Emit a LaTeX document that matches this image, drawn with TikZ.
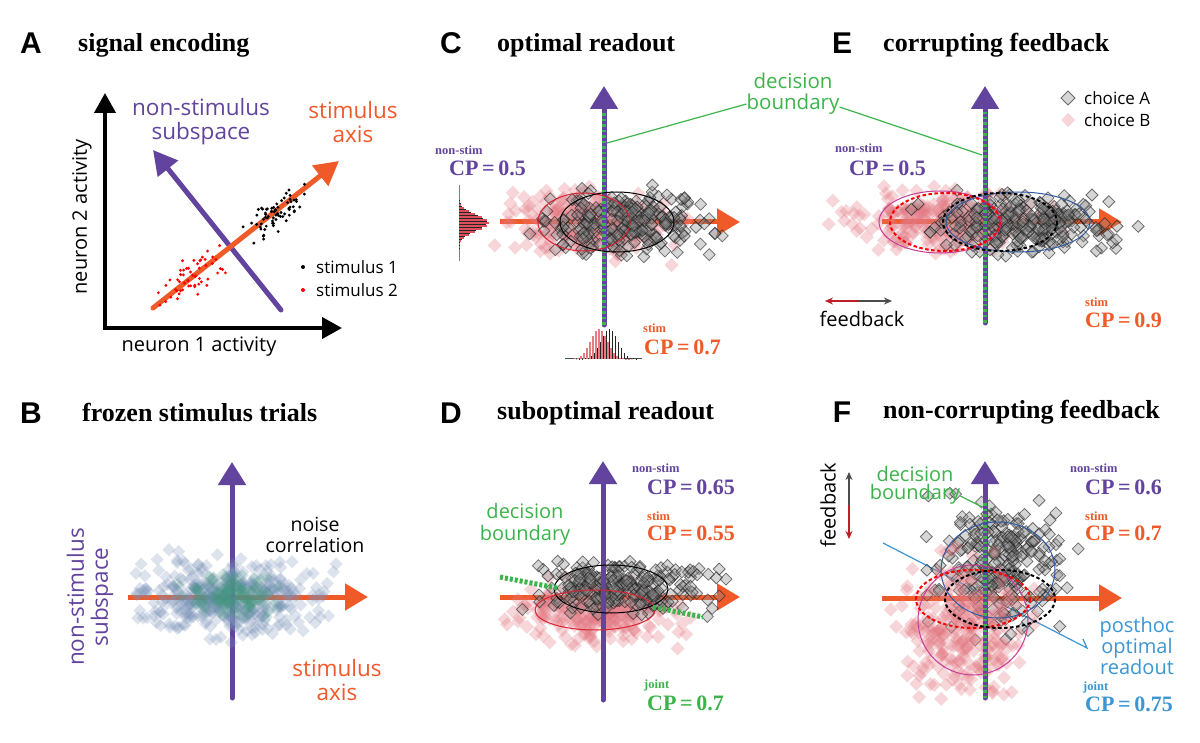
\documentclass[tikz,border=0pt]{standalone}
\usepackage{fontspec}
\setmainfont{Liberation Serif}
\setsansfont{Open Sans}
\newfontfamily\letterfont{Liberation Sans}
\usetikzlibrary{arrows.meta}
\definecolor{purp}{RGB}{98,68,158}
\definecolor{orng}{RGB}{240,90,40}
\definecolor{grn}{RGB}{60,180,75}
\definecolor{bluel}{RGB}{60,150,210}
\definecolor{ellred}{RGB}{215,35,50}
\definecolor{magen}{RGB}{200,60,150}
\definecolor{ellblue}{RGB}{50,90,160}
\definecolor{pinkd}{RGB}{228,120,130}
\definecolor{grayd}{RGB}{140,140,140}
\definecolor{bluedia}{RGB}{120,145,185}
\definecolor{tealdia}{RGB}{70,150,130}
\definecolor{fbred}{RGB}{190,30,40}
\newcommand\cloud[7]{%
\foreach \ii in {1,...,#2}{%
\pgfmathsetmacro\rdx{#3+#5*(rand+rand+rand)}%
\pgfmathsetmacro\rdy{#4+#6*(rand+rand+rand)}%
\path[#1] (\rdx,\rdy) +(-#7,0) -- +(0,-#7) -- +(#7,0) -- +(0,#7) -- cycle;}}
\newcommand\dotline[6]{%
\foreach \ii in {1,...,#2}{%
\pgfmathsetmacro\ra{#5*(rand+rand+rand)}%
\pgfmathsetmacro\rb{#6*(rand+rand+rand)}%
\fill[#1] (#3+0.783*\ra+0.621*\rb, #4-0.621*\ra+0.783*\rb) circle (1.6);}}
\begin{document}
\begin{tikzpicture}[x=1pt,y=-1pt,
  letter/.style={font=\letterfont\bfseries\fontsize{30}{30}\selectfont, inner sep=0},
  ttl/.style={font=\bfseries\fontsize{26}{26}\selectfont, anchor=west, inner sep=0},
  lab/.style={font=\sffamily\fontsize{20}{22}\selectfont, inner sep=0, align=center},
  biglab/.style={font=\sffamily\fontsize{22.5}{24}\selectfont, inner sep=0, align=center},
  leg/.style={font=\sffamily\fontsize{17}{17}\selectfont, inner sep=0, anchor=west},
  smalll/.style={font=\bfseries\fontsize{12.5}{12.5}\selectfont, inner sep=0, anchor=west},
  cp/.style={font=\bfseries\fontsize{22}{22}\selectfont, inner sep=0, anchor=west},
  paxis/.style={purp, line width=5pt, -{Triangle[length=23pt,width=27pt]}},
  oaxis/.style={orng, line width=5pt, -{Triangle[length=23pt,width=26pt]}},
  kaxis/.style={black, line width=4pt, -{Triangle[length=20pt,width=21pt]}},
  gdash/.style={grn, line width=4pt, dash pattern=on 2.5pt off 3pt},
  pinkdia/.style={fill=pinkd, fill opacity=.3},
  graydia/.style={fill=grayd, fill opacity=.35, draw=black!90, draw opacity=.6, line width=.75pt},
  ell/.style={line width=1pt},
  dell/.style={line width=2pt, dash pattern=on 3.5pt off 2.5pt},
  conn/.style={line width=1.2pt}]
\useasboundingbox[fill=white] (0,0) rectangle (1200,743);
\pgfmathsetseed{7}

% ================= Panel A =================
\node[letter] (la) at (31,43) {A};
\node[ttl] (ta) at (78,45) {signal encoding};
\coordinate (a-yt) at (105,93);
\coordinate (a-xt) at (342,328);
\coordinate (a-yb) at (105,330);
\coordinate (a-xb) at (103,328);
\draw[kaxis] (a-yb) -- (a-yt);
\draw[kaxis] (a-xb) -- (a-xt);
\node[lab, rotate=90] (a-ylab) at (82,217) {neuron 2 activity};
\node[lab] (a-xlab) at (199,347) {neuron 1 activity};
\coordinate (a-ps) at (281,310);
\coordinate (a-pt) at (153,150);
\coordinate (a-os) at (153,308);
\coordinate (a-ot) at (339,161);
\draw[purp, line width=5pt, line cap=round, -{Triangle[length=24pt,width=25pt]}] (a-ps) -- (a-pt);
\draw[orng, line width=5pt, line cap=round, -{Triangle[length=24pt,width=25pt]}] (a-os) -- (a-ot);
\dotline{black}{70}{275}{212}{17}{7}
\dotline{red}{55}{190}{277}{19}{8}
\node[biglab, text=purp] (a-ns) at (201,122) {non-stimulus\\subspace};
\node[biglab, text=orng] (a-sa) at (353,122) {stimulus\\axis};
\fill[black] (303,267) circle (2);
\node[leg] (a-l1) at (316,267) {stimulus 1};
\fill[red] (303,290) circle (2);
\node[leg] (a-l2) at (316,290) {stimulus 2};

% ================= Panel B =================
\node[letter] (lb) at (31,413) {B};
\node[ttl] (tb) at (82,413) {frozen stimulus trials};
\coordinate (b-os) at (128,597);
\coordinate (b-ot) at (368,597);
\coordinate (b-ps) at (232,698);
\coordinate (b-pt) at (232,462);
\draw[oaxis] (b-os) -- (b-ot);
\draw[paxis, line cap=round] (b-ps) -- (b-pt);
\cloud{fill=bluedia, fill opacity=.25}{380}{232}{597}{46}{18}{6.5}
\cloud{fill=tealdia, fill opacity=.22}{130}{232}{597}{20}{10}{6.5}
\node[biglab, text=purp, rotate=90] (b-ns) at (90,597) {non-stimulus\\subspace};
\node[lab, font=\sffamily\fontsize{19.5}{21}\selectfont] (b-nc) at (315,535) {noise\\correlation};
\node[biglab, text=orng] (b-sa) at (337,680) {stimulus\\axis};

% ================= Panel C =================
\node[letter] (lc) at (451,43) {C};
\node[ttl] (tc) at (497,45) {optimal readout};
\coordinate (c-os) at (500,222);
\coordinate (c-ot) at (740,222);
\coordinate (c-ps) at (604,325);
\coordinate (c-pt) at (604,86);
\draw[oaxis] (c-os) -- (c-ot);
\cloud{pinkdia}{260}{588}{224}{38}{15}{7}
\cloud{graydia}{260}{627}{222}{40}{16}{6}
\draw[paxis, line cap=round] (c-ps) -- (c-pt);
\draw[gdash] (604,325) -- (604,112);
\draw[ell, ellred] (584,222) ellipse [x radius=46, y radius=29];
\draw[ell, black] (617,222) ellipse [x radius=57, y radius=30];
% left histogram
\coordinate (c-hl1) at (459,185);
\coordinate (c-hl2) at (459,261);
\draw[gray, line width=1pt] (c-hl1) -- (c-hl2);
\foreach \k in {-8,...,8}{
  \pgfmathsetmacro\Lr{30*exp(-(\k*\k)/14)}
  \pgfmathsetmacro\Lb{28*exp(-((\k+0.6)*(\k+0.6))/14)}
  \draw[ellred!80, line width=1.4pt] (459,223+3*\k) -- ++(\Lr,0);
  \draw[black!85, line width=.8pt] (459,224.5+3*\k) -- ++(\Lb,0);
}
% bottom histogram
\coordinate (c-hb1) at (565,359);
\coordinate (c-hb2) at (642,359);
\draw[black!70, line width=1pt] (c-hb1) -- (c-hb2);
\foreach \k in {-10,...,10}{
  \pgfmathsetmacro\Hr{30*exp(-((\k+2)*(\k+2))/16)}
  \pgfmathsetmacro\Hb{30*exp(-((\k-1)*(\k-1))/16)}
  \draw[ellred!60, line width=1.4pt] (605+3*\k,359) -- ++(0,-\Hr);
  \draw[black!85, line width=.8pt] (606.5+3*\k,359) -- ++(0,-\Hb);
}
\node[smalll, text=purp] (c-ns) at (435,150) {non-stim};
\node[cp, text=purp] (c-cp1) at (449,168) {CP\,=\,0.5};
\node[smalll, text=orng] (c-st) at (643,328) {stim};
\node[cp, text=orng] (c-cp2) at (644,347) {CP\,=\,0.7};
% shared decision boundary label
\node[lab, text=grn, font=\sffamily\fontsize{20.5}{20.5}\selectfont] (db1) at (793,81) {decision};
\node[lab, text=grn, font=\sffamily\fontsize{20.5}{20.5}\selectfont] (db2) at (793,104) {boundary};
\coordinate (c-db) at (607,143);
\coordinate (e-db) at (982,155);
\draw[grn, conn] (db2.west) -- (c-db);
\draw[grn, conn] ([yshift=-3pt]db2.east) -- (e-db);

% ================= Panel E =================
\node[letter] (le) at (842,43) {E};
\node[ttl] (te) at (883,45) {corrupting feedback};
\coordinate (e-os) at (882,222);
\coordinate (e-ot) at (1122,222);
\coordinate (e-ps) at (985,323);
\coordinate (e-pt) at (985,86);
\draw[oaxis] (e-os) -- (e-ot);
\cloud{pinkdia}{270}{940}{222}{46}{14}{7}
\cloud{graydia}{270}{1025}{222}{42}{14}{6}
\draw[paxis, line cap=round] (e-ps) -- (e-pt);
\draw[gdash] (985,323) -- (985,112);
\draw[ell, magen] (940,222) ellipse [x radius=61, y radius=31];
\draw[ell, ellblue] (1018,222) ellipse [x radius=72, y radius=30];
\draw[dell, red] (945,222) ellipse [x radius=55, y radius=29];
\draw[dell, black] (1000,222) ellipse [x radius=57, y radius=29];
\path[graydia] (1068,98) +(-7,0) -- +(0,-7) -- +(7,0) -- +(0,7) -- cycle;
\node[leg] (e-la) at (1084,98) {choice A};
\path[pinkdia] (1068,120) +(-7,0) -- +(0,-7) -- +(7,0) -- +(0,7) -- cycle;
\node[leg] (e-lb) at (1084,120) {choice B};
\node[smalll, text=purp] (e-ns) at (835,148) {non-stim};
\node[cp, text=purp] (e-cp1) at (849,168) {CP\,=\,0.5};
\node[smalll, text=orng] (e-st) at (1085,302) {stim};
\node[cp, text=orng] (e-cp2) at (1085,320) {CP\,=\,0.9};
\coordinate (e-fl) at (825,301);
\coordinate (e-fm) at (858,301);
\coordinate (e-fr) at (892,301);
\draw[fbred, line width=1.5pt, {Stealth[length=8pt,width=7pt]}-] (e-fl) -- (e-fm);
\draw[black!70, line width=1.5pt, -{Stealth[length=8pt,width=7pt]}] (e-fm) -- (e-fr);
\node[lab, font=\sffamily\fontsize{20}{20}\selectfont] (e-fb) at (862,319) {feedback};

% ================= Panel D =================
\node[letter] (ld) at (451,413) {D};
\node[ttl] (td) at (497,413) {suboptimal readout};
\coordinate (d-os) at (500,597);
\coordinate (d-ot) at (740,597);
\coordinate (d-ps) at (603,700);
\coordinate (d-pt) at (603,461);
\draw[oaxis] (d-os) -- (d-ot);
\cloud{pinkdia}{260}{594}{613}{38}{14}{7}
\cloud{graydia}{260}{625}{585}{38}{13}{6}
\draw[paxis, line cap=round] (d-ps) -- (d-pt);
\draw[ell, black] (611,589) ellipse [x radius=57, y radius=24];
\draw[ell, ellred] (595,610) ellipse [x radius=60, y radius=20];
\coordinate (d-b1) at (500,577);
\coordinate (d-b2) at (557,588);
\coordinate (d-b3) at (653,607);
\coordinate (d-b4) at (703,617);
\draw[grn, line width=5pt, dash pattern=on 3pt off 2pt] (d-b1) -- (d-b2);
\draw[grn, line width=5pt, dash pattern=on 3pt off 2pt] (d-b3) -- (d-b4);
\node[lab, text=grn] (d-db) at (525,524) {decision\\boundary};
\node[smalll, text=purp] (d-ns) at (632,468) {non-stim};
\node[cp, text=purp] (d-cp1) at (647,487) {CP\,=\,0.65};
\node[smalll, text=orng] (d-st) at (647,516) {stim};
\node[cp, text=orng] (d-cp2) at (647,533) {CP\,=\,0.55};
\node[smalll, text=grn] (d-jt) at (644,685) {joint};
\node[cp, text=grn] (d-cp3) at (647,703) {CP\,=\,0.7};

% ================= Panel F =================
\node[letter] (lf) at (842,412) {F};
\node[ttl] (tf) at (883,412) {non-corrupting feedback};
\coordinate (f-os) at (882,598);
\coordinate (f-ot) at (1122,598);
\coordinate (f-ps) at (985,698);
\coordinate (f-pt) at (985,461);
\coordinate (f-h1) at (883,543);
\coordinate (f-h2) at (1087,648);
\coordinate (f-h3) at (1083,639);
\draw[oaxis] (f-os) -- (f-ot);
\draw[bluel, conn] (f-h1) -- (f-h2) -- (f-h3);
\cloud{graydia}{260}{1002}{563}{30}{30}{6}
\cloud{pinkdia}{260}{965}{630}{30}{33}{7}
\draw[paxis, line cap=round] (f-ps) -- (f-pt);
\draw[gdash] (985,698) -- (985,502);
\draw[ell, ellblue] (998,570) ellipse [x radius=57, y radius=48];
\draw[ell, magen] (973,620) ellipse [x radius=55, y radius=55];
\draw[dell, red] (973,599) ellipse [x radius=57, y radius=29];
\draw[dell, black] (1000,599) ellipse [x radius=55, y radius=29];
\node[lab, text=grn] (f-db1) at (915,474) {decision};
\node[lab, text=grn] (f-db2) at (915,494) {boundary};
\coordinate (f-dbc) at (982,507);
\draw[grn, conn] ([yshift=-2pt]f-db2.east) -- (f-dbc);
\node[lab, text=bluel, font=\sffamily\fontsize{20}{19}\selectfont] (f-ph) at (1137,646) {posthoc\\optimal\\readout};
\coordinate (f-fu) at (849,472);
\coordinate (f-fm) at (849,505);
\coordinate (f-fd) at (849,539);
\draw[black!70, line width=1.5pt, -{Stealth[length=8pt,width=7pt]}] (f-fm) -- (f-fu);
\draw[fbred, line width=1.5pt, -{Stealth[length=8pt,width=7pt]}] (f-fm) -- (f-fd);
\node[lab, rotate=90, font=\sffamily\fontsize{20}{20}\selectfont] (f-fb) at (828,505) {feedback};
\node[smalll, text=purp] (f-ns) at (1070,468) {non-stim};
\node[cp, text=purp] (f-cp1) at (1085,487) {CP\,=\,0.6};
\node[smalll, text=orng] (f-st) at (1085,516) {stim};
\node[cp, text=orng] (f-cp2) at (1085,533) {CP\,=\,0.7};
\node[smalll, text=bluel] (f-jt) at (1083,687) {joint};
\node[cp, text=bluel] (f-cp3) at (1085,704) {CP\,=\,0.75};
\end{tikzpicture}
\end{document}
